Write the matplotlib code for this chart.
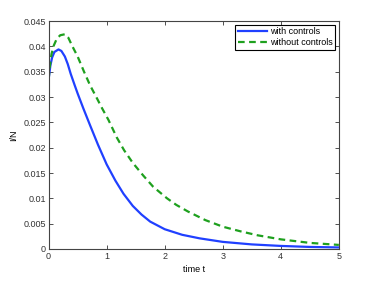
"""I/N over time with and without controls."""

import matplotlib
matplotlib.use("Agg")
import matplotlib.pyplot as plt

# --- data ---
t_with = [0, 0.03, 0.06, 0.1, 0.17, 0.22, 0.28, 0.33, 0.38, 0.45, 0.5, 0.6, 0.715,
          0.85, 1.0, 1.15, 1.29, 1.45, 1.6, 1.75, 2.0, 2.3, 2.6, 3.0, 3.5, 4.0,
          4.5, 5.0]
i_with = [0.0335, 0.0362, 0.0378, 0.0389, 0.0394, 0.0391, 0.0380, 0.0365, 0.0346,
          0.0323, 0.0307, 0.0277, 0.0244, 0.0206, 0.0167, 0.0135, 0.0109, 0.0085,
          0.0068, 0.0054, 0.0039, 0.0028, 0.0021, 0.0014, 0.0009, 0.0006, 0.0004,
          0.0003]

t_without = [0, 0.02, 0.05, 0.09, 0.14, 0.2, 0.28, 0.34, 0.41, 0.5, 0.61, 0.715,
             0.83, 0.92, 1.03, 1.175, 1.3, 1.45, 1.63, 1.8, 2.04, 2.2, 2.4, 2.7, 3.0,
             3.3, 3.6, 4.0, 4.5, 5.0]
i_without = [0.0335, 0.0360, 0.0385, 0.0402, 0.0415, 0.0422, 0.0424, 0.0417, 0.0400,
             0.0380, 0.0350, 0.0323, 0.0298, 0.0278, 0.0255, 0.0220, 0.0195, 0.0170,
             0.0145, 0.0123, 0.0100, 0.0087, 0.0074, 0.0057, 0.0044, 0.0035, 0.0027,
             0.0019, 0.0012, 0.0008]

x_ticks = [0, 1, 2, 3, 4, 5]
y_ticks = [0, 0.005, 0.01, 0.015, 0.02, 0.025, 0.03, 0.035, 0.04, 0.045]
y_tick_labels = ["0", "0.005", "0.01", "0.015", "0.02", "0.025", "0.03", "0.035", "0.04", "0.045"]

plt.rcParams["font.family"] = ["Liberation Sans", "DejaVu Sans"]

fig = plt.figure(figsize=(3.74, 2.81), dpi=100)
ax = fig.add_axes([0.130, 0.114, 0.776, 0.811])

ax.plot(t_with, i_with, color="#2040ff", linewidth=1.6, label="with controls",
        solid_joinstyle="round")
ax.plot(t_without, i_without, color="#1ea01e", linewidth=1.6, linestyle=(0, (3, 2)),
        label="without controls")

ax.set_xlim(0, 5)
ax.set_ylim(0, 0.045)
ax.set_xticks(x_ticks)
ax.set_yticks(y_ticks)
ax.set_yticklabels(y_tick_labels)
ax.tick_params(direction="in", length=3, width=0.6, labelsize=6.5, top=True, right=True,
               colors="#333333", pad=2)
for side in ax.spines.values():
    side.set_linewidth(0.8)
    side.set_color("#444444")

ax.set_xlabel("time t", fontsize=6.5, labelpad=3)
ax.set_ylabel("I/N", fontsize=6.5, labelpad=4)

leg = ax.legend(loc="upper right", fontsize=6.5, fancybox=False, framealpha=1,
                edgecolor="black", borderpad=0.3, handlelength=3.2, handletextpad=0.3,
                labelspacing=0.2, borderaxespad=0.4)
leg.get_frame().set_linewidth(0.8)

fig.savefig("out.png", dpi=100)
plt.close(fig)
